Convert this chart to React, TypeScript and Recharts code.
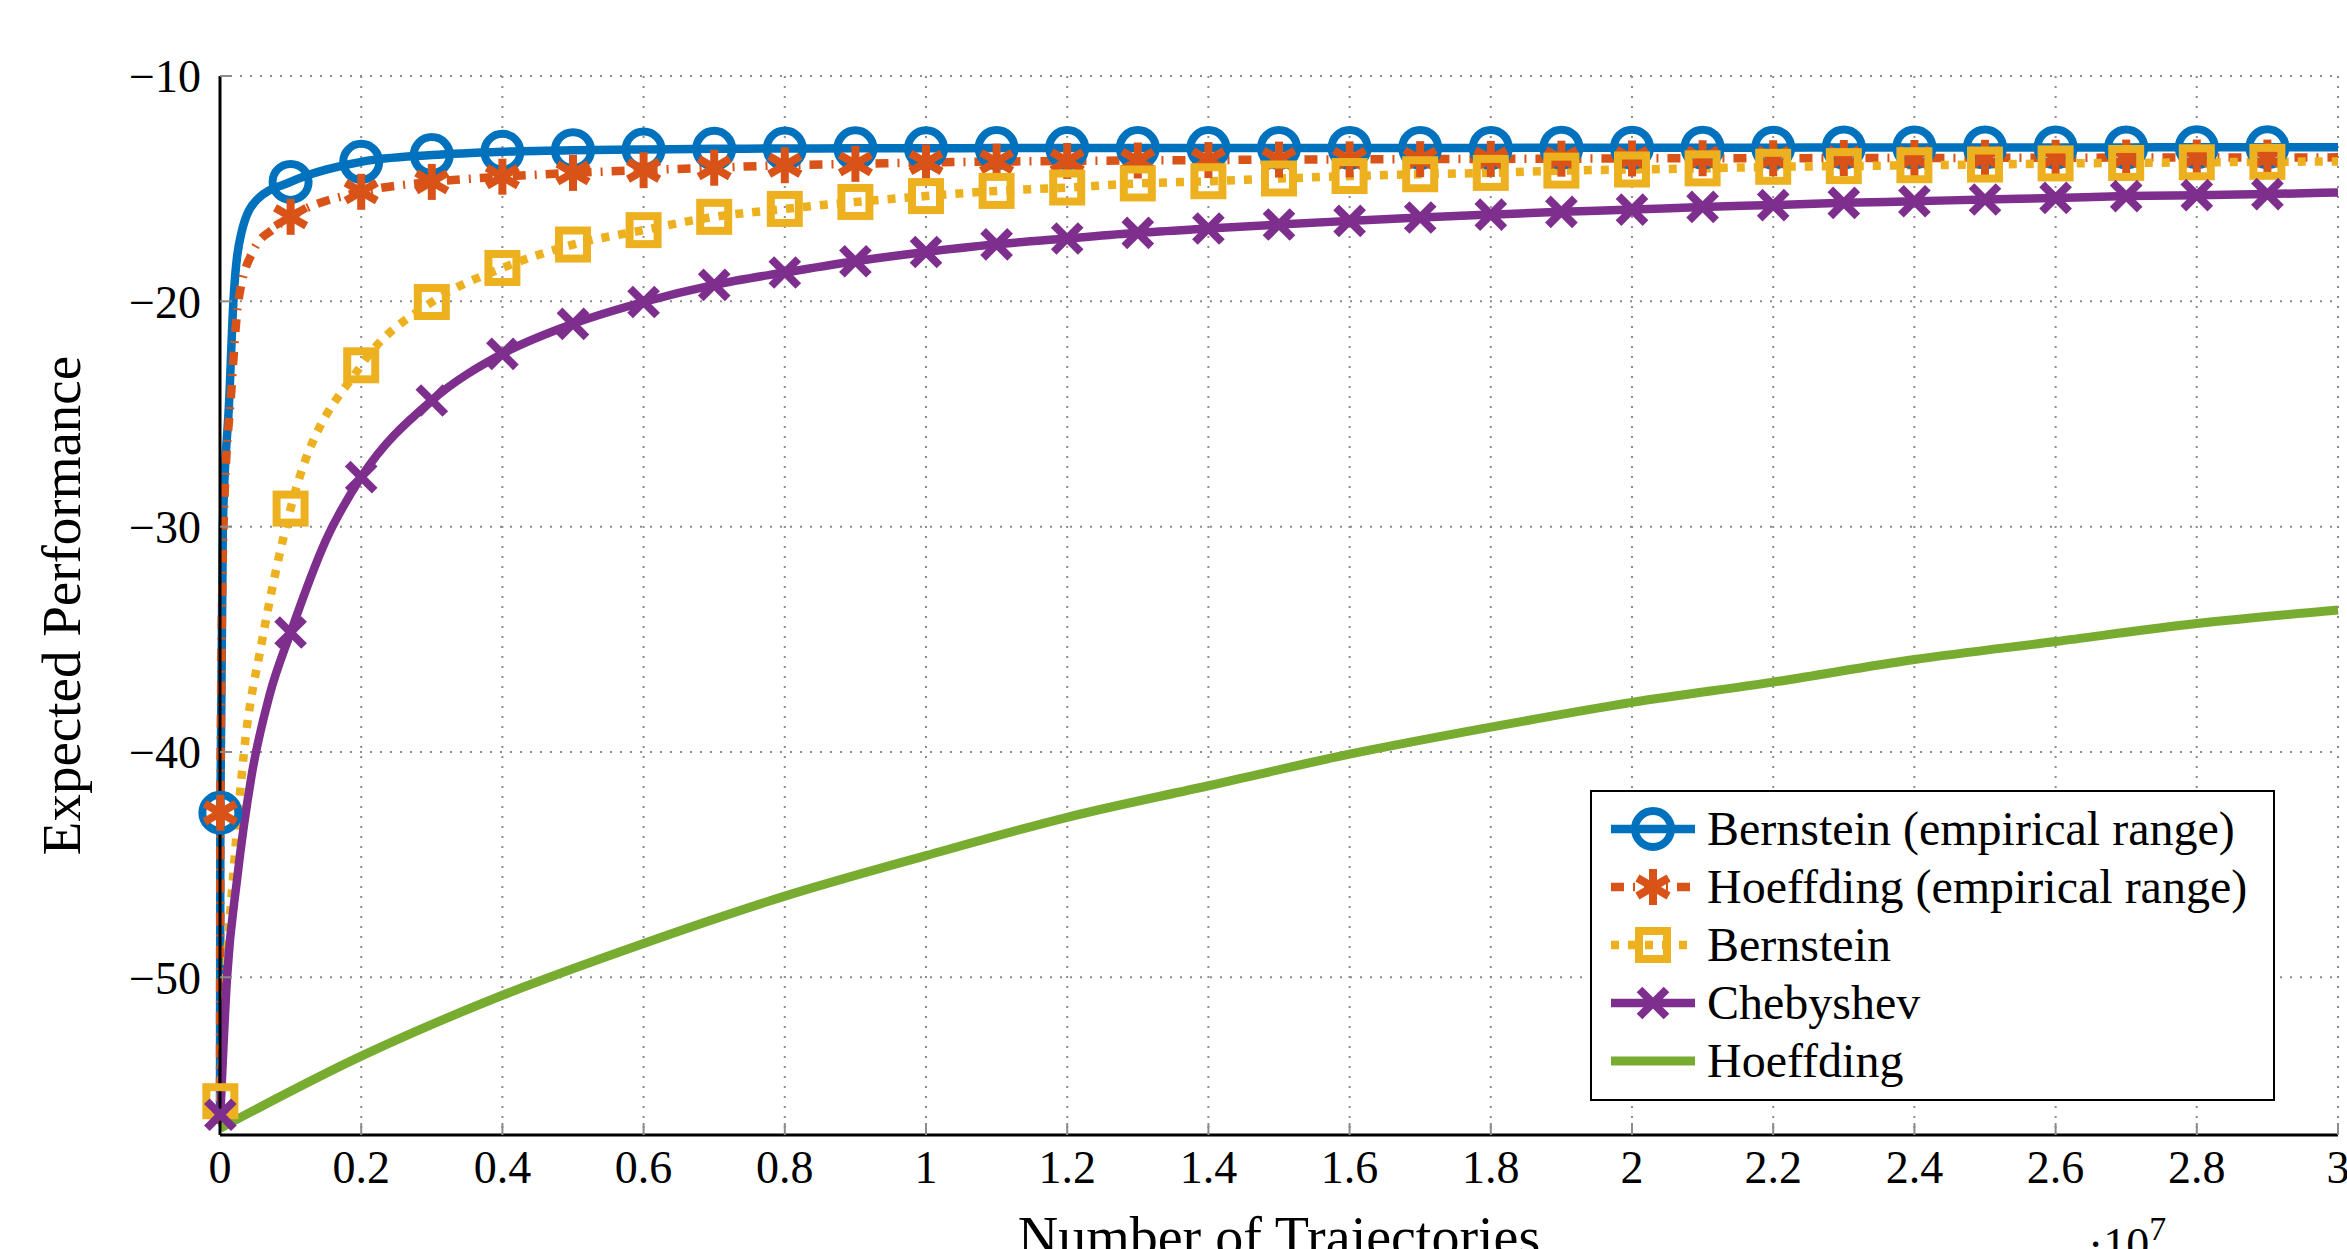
import { LineChart, Line, XAxis, YAxis, CartesianGrid, Legend } from 'recharts';

const FONT = '"Liberation Serif", "Times New Roman", serif';

// marker abscissae, in units of 10^7 trajectories
const MARK_X = [0.0005, 0.1, 0.2, 0.3, 0.4, 0.5, 0.6, 0.7, 0.8, 0.9, 1.0, 1.1, 1.2, 1.3, 1.4, 1.5, 1.6, 1.7, 1.8, 1.9, 2.0, 2.1, 2.2, 2.3, 2.4, 2.5, 2.6, 2.7, 2.8, 2.9];

// values at the markers
const bernEmpMarks = [-42.7, -14.7, -13.81, -13.51, -13.36, -13.29, -13.26, -13.23, -13.22, -13.21, -13.21, -13.2, -13.2, -13.2, -13.2, -13.19, -13.19, -13.19, -13.19, -13.18, -13.18, -13.18, -13.18, -13.17, -13.17, -13.17, -13.17, -13.17, -13.16, -13.16];
const hoefEmpMarks = [-42.7, -16.25, -15.14, -14.7, -14.47, -14.3, -14.18, -14.07, -13.96, -13.9, -13.84, -13.8, -13.77, -13.75, -13.73, -13.71, -13.7, -13.69, -13.68, -13.67, -13.66, -13.65, -13.65, -13.64, -13.64, -13.63, -13.63, -13.62, -13.62, -13.62];
const bernMarks = [-55.5, -29.2, -22.84, -20.03, -18.52, -17.48, -16.84, -16.25, -15.9, -15.59, -15.33, -15.1, -14.95, -14.77, -14.67, -14.55, -14.44, -14.36, -14.3, -14.2, -14.15, -14.1, -14.03, -14.0, -13.96, -13.93, -13.88, -13.86, -13.83, -13.81];
const chebMarks = [-56.1, -34.7, -27.8, -24.4, -22.33, -21.0, -20.03, -19.27, -18.72, -18.22, -17.81, -17.47, -17.21, -16.96, -16.77, -16.59, -16.43, -16.28, -16.15, -16.03, -15.93, -15.81, -15.73, -15.63, -15.56, -15.48, -15.41, -15.33, -15.29, -15.24];

// extra curve samples (steep start and right end)
const bernEmpExtraX = [0, 0.004, 0.013, 0.019, 0.03, 0.052, 3];
const bernEmpExtraY = [-56.5, -30, -24.4, -20, -17, -15.5, -13.16];
const hoefEmpExtraX = [0, 0.005, 0.016, 0.026, 0.048, 0.075, 3];
const hoefEmpExtraY = [-56.5, -30, -24, -20, -17.7, -16.8, -13.61];
const bernExtraX = [0.0085, 0.02, 0.034, 0.06, 3];
const bernExtraY = [-50, -45, -40, -35, -13.79];
const chebExtraX = [0.01, 0.024, 0.045, 0.07, 0.15, 3];
const chebExtraY = [-50, -45.7, -41, -37.5, -30.6, -15.17];

// Hoeffding (no markers)
const hoefX = [0, 0.2, 0.4, 0.6, 0.8, 1.0, 1.2, 1.4, 1.6, 1.8, 2.0, 2.2, 2.4, 2.6, 2.8, 3.0];
const hoefY = [-56.7, -53.5, -50.8, -48.5, -46.4, -44.6, -42.9, -41.5, -40.1, -38.9, -37.8, -36.9, -35.9, -35.1, -34.3, -33.7];

const X_TICKS = [0, 0.2, 0.4, 0.6, 0.8, 1, 1.2, 1.4, 1.6, 1.8, 2, 2.2, 2.4, 2.6, 2.8, 3];
const Y_TICKS = [-50, -40, -30, -20, -10];

type Row = { x: number; y: number; mark: boolean };

const build = (marks: number[] | null, ex: number[], ey: number[]): Row[] => {
    const rows: Row[] = [];
    ex.forEach((x, i) => rows.push({ x, y: ey[i], mark: false }));
    if (marks) MARK_X.forEach((x, i) => rows.push({ x, y: marks[i], mark: true }));
    return rows.sort((a, b) => a.x - b.x);
};

const SERIES = [
    { key: 'be', name: 'Bernstein (empirical range)', color: '#0072BD', dash: undefined, width: 8.5, marker: 'circle', data: build(bernEmpMarks, bernEmpExtraX, bernEmpExtraY) },
    { key: 'he', name: 'Hoeffding (empirical range)', color: '#D95319', dash: '13 9 2 9', width: 8.5, marker: 'star', data: build(hoefEmpMarks, hoefEmpExtraX, hoefEmpExtraY) },
    { key: 'b', name: 'Bernstein', color: '#EDB120', dash: '8 9', width: 8.5, marker: 'square', data: build(bernMarks, bernExtraX, bernExtraY) },
    { key: 'c', name: 'Chebyshev', color: '#7E2F8E', dash: undefined, width: 8.5, marker: 'cross', data: build(chebMarks, chebExtraX, chebExtraY) },
    { key: 'h', name: 'Hoeffding', color: '#77AC30', dash: undefined, width: 9, marker: 'none', data: build(null, hoefX, hoefY) },
];

const markerShape = (kind: string, cx: number, cy: number, color: string) => {
    const sw = 8;
    if (kind === 'circle') {
        return <circle cx={cx} cy={cy} r={18} fill="none" stroke={color} strokeWidth={sw} />;
    }
    if (kind === 'square') {
        return <rect x={cx - 14} y={cy - 14} width={28} height={28} fill="none" stroke={color} strokeWidth={sw} />;
    }
    if (kind === 'star') {
        const r = 18;
        const dx = r * 0.866, dy = r * 0.5;
        return (
            <g stroke={color} strokeWidth={sw}>
                <line x1={cx} y1={cy - r} x2={cx} y2={cy + r} />
                <line x1={cx - dx} y1={cy - dy} x2={cx + dx} y2={cy + dy} />
                <line x1={cx - dx} y1={cy + dy} x2={cx + dx} y2={cy - dy} />
            </g>
        );
    }
    if (kind === 'cross') {
        const r = 13.5;
        return (
            <g stroke={color} strokeWidth={sw}>
                <line x1={cx - r} y1={cy - r} x2={cx + r} y2={cy + r} />
                <line x1={cx - r} y1={cy + r} x2={cx + r} y2={cy - r} />
            </g>
        );
    }
    return null;
};

const makeDot = (kind: string, color: string) => (props: any) => {
    const { cx, cy, payload, index } = props;
    if (!payload || !payload.mark || cx == null || cy == null) return <g key={`d-${index}`} />;
    return <g key={`d-${index}`}>{markerShape(kind, cx, cy, color)}</g>;
};

const renderLegend = () => (
    <div
        style={{
            boxSizing: 'border-box',
            width: 685,
            height: 311,
            border: '2px solid #000',
            background: '#fff',
            padding: '8px 0 0 19px',
            fontFamily: FONT,
            fontSize: 48,
            color: '#000',
        }}
    >
        {SERIES.map(s => (
            <div key={s.key} style={{ display: 'flex', alignItems: 'center', height: 58 }}>
                <svg width={84} height={58} style={{ flex: 'none' }}>
                    <line x1={0} y1={29} x2={84} y2={29} stroke={s.color} strokeWidth={s.width} strokeDasharray={s.dash} />
                    {markerShape(s.marker, 42, 29, s.color)}
                </svg>
                <span style={{ marginLeft: 12, whiteSpace: 'nowrap', lineHeight: '58px' }}>{s.name}</span>
            </div>
        ))}
    </div>
);

const renderXLabel = (props: any) => {
    const vb = props.viewBox || { x: 220, y: 1135, width: 2118 };
    const cx = vb.x + vb.width / 2;
    return (
        <g>
            <text x={cx} y={vb.y + 121} textAnchor="middle" fontFamily={FONT} fontSize={56} fill="#000">
                Number of Trajectories
            </text>
            <text x={2088} y={vb.y + 125} fontFamily={FONT} fontSize={46} fill="#000">
                ·10<tspan dy={-20} fontSize={34}>7</tspan>
            </text>
        </g>
    );
};

const renderYLabel = (props: any) => {
    const vb = props.viewBox || { y: 76, height: 1059 };
    const cy = vb.y + vb.height / 2;
    const x = 80;
    return (
        <text x={x} y={cy} transform={`rotate(-90, ${x}, ${cy})`} textAnchor="middle" fontFamily={FONT} fontSize={55} fill="#000">
            Expected Performance
        </text>
    );
};

const fmtX = (v: number) => String(Math.round(v * 10) / 10);
const fmtY = (v: number) => (v < 0 ? `\u2212${Math.abs(v)}` : String(v));

const App = () => {
    return (
        <div style={{ position: 'absolute', left: 0, top: 0, width: 2347, height: 1249, background: '#fff' }}>
            <LineChart
                width={2347}
                height={1249}
                margin={{ top: 76, right: 9, bottom: 0, left: 0 }}
                style={{ fontFamily: FONT }}
            >
                <CartesianGrid stroke="#8c8c8c" strokeWidth={2} strokeDasharray="2 8" />
                <XAxis
                    dataKey="x"
                    type="number"
                    domain={[0, 3]}
                    ticks={X_TICKS}
                    interval={0}
                    height={114}
                    tickFormatter={fmtX}
                    tickSize={-12}
                    tickMargin={27}
                    tick={{ fill: '#000', fontSize: 46, fontFamily: FONT }}
                    tickLine={{ stroke: '#8c8c8c', strokeWidth: 2 }}
                    axisLine={{ stroke: '#000', strokeWidth: 3 }}
                    label={{ content: renderXLabel }}
                />
                <YAxis
                    type="number"
                    domain={[-57, -10]}
                    ticks={Y_TICKS}
                    interval={0}
                    width={220}
                    tickFormatter={fmtY}
                    tickSize={-12}
                    tickMargin={31}
                    tick={{ fill: '#000', fontSize: 46, fontFamily: FONT }}
                    tickLine={{ stroke: '#8c8c8c', strokeWidth: 2 }}
                    axisLine={{ stroke: '#000', strokeWidth: 3 }}
                    label={{ content: renderYLabel }}
                />
                <Legend
                    layout="vertical"
                    align="center"
                    verticalAlign="middle"
                    content={renderLegend}
                    wrapperStyle={{ left: 1590, top: 790, width: 685, height: 311 }}
                />
                {SERIES.map(s => (
                    <Line
                        key={s.key}
                        data={s.data}
                        dataKey="y"
                        name={s.name}
                        type="monotone"
                        stroke={s.color}
                        strokeWidth={s.width}
                        strokeDasharray={s.dash}
                        dot={makeDot(s.marker, s.color)}
                        activeDot={false}
                        isAnimationActive={false}
                    />
                ))}
            </LineChart>
        </div>
    );
};

export default App;
